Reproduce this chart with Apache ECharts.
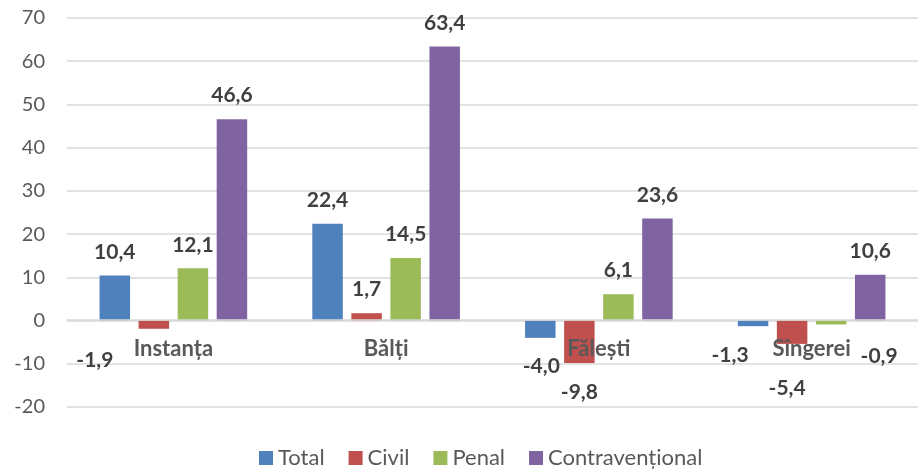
<!DOCTYPE html>
<html>
<head>
<meta charset="utf-8">
<script src="https://cdn.jsdelivr.net/npm/echarts@6/dist/echarts.min.js"></script>
<style>
  html, body { margin: 0; padding: 0; background: #fff; }
</style>
</head>
<body>
<div id="chart" style="width: 918px;height: 470px;"></div>
<script>
  // categorii (instanțe)
  const categories = ['Instanța', 'Bălți', 'Fălești', 'Sîngerei']
  // valori pe serii
  const totalValues = [10.4, 22.4, -4.0, -1.3]
  const civilValues = [-1.9, 1.7, -9.8, -5.4]
  const penalValues = [12.1, 14.5, 6.1, -0.9]
  const contraValues = [46.6, 63.4, 23.6, 10.6]
  const seriesNames = ['Total', 'Civil', 'Penal', 'Contravențional']
  const yTicks = [-20, -10, 0, 10, 20, 30, 40, 50, 60, 70]

  const colors = ['#4f81bd', '#c0504d', '#9bbb59', '#8064a2']
  // mutări manuale ale etichetelor negative [seria][categoria] -> [dx, dy]
  const negLabelShift = [
    [null, null, [1, 13], [-23, 14]],
    [[-59, 16], null, [0, 14], [-5, 29]],
    [null, null, null, [48, 16]],
    [null, null, null, null]
  ]

  const fmt = v => v.toFixed(1).replace('.', ',')

  function makeSeries(name, values, si) {
    return {
      name: name,
      type: 'bar',
      barWidth: 30.5,
      barGap: '28%',
      itemStyle: { color: colors[si] },
      label: {
        show: true,
        position: 'top',
        distance: 13,
        fontFamily: 'Lato',
        fontSize: 21,
        fontWeight: 'bold',
        color: '#404040',
        formatter: p => fmt(p.value)
      },
      data: values.map((v, ci) => {
        if (v >= 0) return v
        const s = negLabelShift[si][ci] || [0, 14]
        return { value: v, label: { position: 'bottom', distance: 5, offset: s } }
      })
    }
  }

  const myChart = echarts.init(document.getElementById('chart'))
  myChart.setOption({
    animation: false,
    color: colors,
    textStyle: { fontFamily: 'Lato' },
    grid: { left: 67, right: -8, top: 18, bottom: 63, containLabel: false },
    legend: {
      left: 254,
      top: 442,
      itemWidth: 14,
      itemHeight: 14,
      itemGap: 24,
      icon: 'rect',
      textStyle: { fontFamily: 'Lato', fontSize: 22, color: '#595959' },
      data: seriesNames
    },
    xAxis: {
      type: 'category',
      data: categories,
      position: 'bottom',
      offset: -87,   // axa urcă la nivelul lui 0
      z: 10,         // etichetele peste bare
      axisLine: { onZero: false, lineStyle: { color: '#d9d9d9', width: 1.5 } },
      axisTick: { show: false },
      axisLabel: {
        margin: 18,
        fontFamily: 'Lato',
        fontSize: 22,
        fontWeight: 'bold',
        color: '#595959'
      }
    },
    yAxis: {
      type: 'value',
      min: yTicks[0],
      max: yTicks[yTicks.length - 1],
      interval: 10,
      axisLine: { show: false },
      axisTick: { show: false },
      axisLabel: { margin: 22, fontFamily: 'Lato', fontSize: 20, color: '#595959' },
      splitLine: { lineStyle: { color: '#d9d9d9', width: 1.5 } }
    },
    series: [
      makeSeries(seriesNames[0], totalValues, 0),
      makeSeries(seriesNames[1], civilValues, 1),
      makeSeries(seriesNames[2], penalValues, 2),
      makeSeries(seriesNames[3], contraValues, 3)
    ]
  })
</script>
</body>
</html>
